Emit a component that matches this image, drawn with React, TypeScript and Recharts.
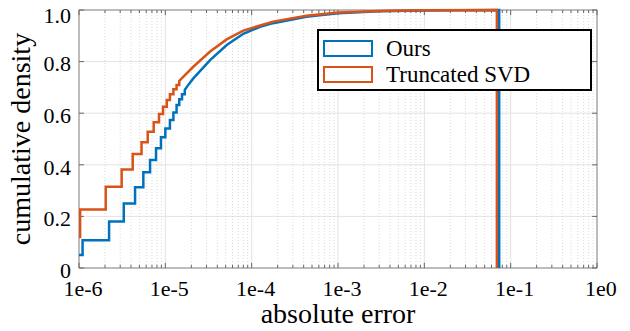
import React from "react";
import {
  CartesianGrid,
  Legend,
  Line,
  LineChart,
  ReferenceArea,
  ReferenceLine,
  XAxis,
  YAxis
} from "recharts";

// staircase part (jump positions and levels), smooth tail, and where the curve drops
const oursStepX = [1e-6, 1.1e-6, 2.23e-6, 3.3e-6, 4.46e-6, 5.56e-6, 6.65e-6, 7.8e-6, 8.9e-6, 1e-5, 1.13e-5, 1.24e-5, 1.35e-5, 1.45e-5, 1.56e-5, 1.68e-5];
const oursStepY = [0.05, 0.108, 0.18, 0.25, 0.313, 0.371, 0.419, 0.464, 0.507, 0.541, 0.574, 0.603, 0.632, 0.654, 0.673, 0.69];
const oursCurveX = [1.8e-5, 2.11e-5, 3.3e-5, 5.14e-5, 8e-5, 1.25e-4, 1.77e-4, 4.3e-4, 1e-3, 3e-3, 1e-2, 0.0736];
const oursCurveY = [0.705, 0.735, 0.806, 0.864, 0.908, 0.935, 0.949, 0.974, 0.987, 0.995, 0.998, 1.0];
const oursEnd = 0.0736;

const svdStepX = [1e-6, 1.03e-6, 2.04e-6, 3.12e-6, 4.19e-6, 5.3e-6, 6.25e-6, 7.33e-6, 8.45e-6, 9.4e-6, 1.04e-5, 1.13e-5, 1.24e-5, 1.35e-5, 1.45e-5];
const svdStepY = [0.12, 0.227, 0.315, 0.382, 0.442, 0.487, 0.528, 0.565, 0.597, 0.625, 0.651, 0.673, 0.693, 0.709, 0.725];
const svdCurveX = [1.6e-5, 2.11e-5, 3.3e-5, 5.14e-5, 8e-5, 1.25e-4, 1.77e-4, 4.3e-4, 1e-3, 3e-3, 1e-2, 0.0692];
const svdCurveY = [0.74, 0.78, 0.839, 0.886, 0.92, 0.94, 0.955, 0.978, 0.99, 0.996, 0.999, 1.0];
const svdEnd = 0.0692;

const xTicks = [1e-6, 1e-5, 1e-4, 1e-3, 1e-2, 1e-1, 1];
const yTicks = [0, 0.2, 0.4, 0.6, 0.8, 1];

const BLUE = "#0072BD";
const ORANGE = "#D95319";
const FONT = "'Liberation Serif', 'Times New Roman', serif";

function buildCdf(stepX: number[], stepY: number[], curveX: number[], curveY: number[], end: number) {
  const pts: { x: number; y: number }[] = [];
  stepX.forEach((x, i) => {
    if (i > 0) pts.push({ x, y: stepY[i - 1] });
    pts.push({ x, y: stepY[i] });
  });
  curveX.forEach((x, i) => pts.push({ x, y: curveY[i] }));
  pts.push({ x: end, y: 0 });
  return pts;
}

const oursData = buildCdf(oursStepX, oursStepY, oursCurveX, oursCurveY, oursEnd);
const svdData = buildCdf(svdStepX, svdStepY, svdCurveX, svdCurveY, svdEnd);

const minorTicks: number[] = [];
for (let d = 0; d < 6; d++) {
  for (let m = 2; m <= 9; m++) minorTicks.push(m * xTicks[d]);
}

function LegendBox() {
  const items = [
    { label: "Ours", color: BLUE },
    { label: "Truncated SVD", color: ORANGE }
  ];
  return (
    <div
      style={{
        border: "2px solid #000",
        background: "#fff",
        boxSizing: "border-box",
        width: 275,
        height: 62,
        padding: "5px 0 0 4px",
        fontFamily: FONT,
        fontSize: 23,
        lineHeight: "25px"
      }}
    >
      {items.map((it) => (
        <div key={it.label} style={{ display: "flex", alignItems: "center", height: 25.5 }}>
          <span
            style={{
              display: "inline-block",
              width: 50,
              height: 17,
              boxSizing: "border-box",
              border: `2px solid ${it.color}`,
              marginRight: 13
            }}
          />
          <span style={{ color: "#000" }}>{it.label}</span>
        </div>
      ))}
    </div>
  );
}

export default function App() {
  return (
    <div style={{ position: "absolute", left: 0, top: 0, background: "#fff" }}>
      <LineChart
        width={630}
        height={331}
        margin={{ top: 10, right: 33, bottom: 0, left: 0 }}
        style={{ fontFamily: FONT }}
      >
        <CartesianGrid stroke="#e3e3e3" strokeWidth={1} verticalValues={xTicks} horizontalValues={yTicks} />
        {minorTicks.map((v) => (
          <ReferenceLine key={`g${v}`} x={v} stroke="#d9d9d9" strokeDasharray="1 2" strokeWidth={1} />
        ))}
        <XAxis
          dataKey="x"
          type="number"
          scale="log"
          domain={[1e-6, 1]}
          allowDataOverflow
          ticks={xTicks}
          tickFormatter={(v: number) => `1e${Math.round(Math.log10(v))}`}
          tick={{ fill: "#000", fontSize: 22, dx: 4, dy: 4 }}
          tickLine={false}
          axisLine={false}
          height={63}
          label={{ value: "absolute error", position: "insideBottom", offset: 8, fill: "#000", fontSize: 28 }}
        />
        <YAxis
          type="number"
          domain={[0, 1]}
          ticks={yTicks}
          tickFormatter={(v: number) => (v === 0 ? "0" : v.toFixed(1))}
          tick={{ fill: "#000", fontSize: 22, dy: 2 }}
          tickLine={false}
          axisLine={false}
          width={79}
          label={{ value: "cumulative density", angle: -90, position: "insideLeft", offset: 20, fill: "#000", fontSize: 28, style: { textAnchor: "middle" } }}
        />
        {xTicks.map((v) => (
          <ReferenceLine key={`tb${v}`} segment={[{ x: v, y: 0 }, { x: v, y: 0.02 }]} stroke="#666" />
        ))}
        {xTicks.map((v) => (
          <ReferenceLine key={`tt${v}`} segment={[{ x: v, y: 1 }, { x: v, y: 0.98 }]} stroke="#666" />
        ))}
        {minorTicks.map((v) => (
          <ReferenceLine key={`mb${v}`} segment={[{ x: v, y: 0 }, { x: v, y: 0.012 }]} stroke="#666" />
        ))}
        {minorTicks.map((v) => (
          <ReferenceLine key={`mt${v}`} segment={[{ x: v, y: 1 }, { x: v, y: 0.988 }]} stroke="#666" />
        ))}
        {yTicks.map((v) => (
          <ReferenceLine key={`yl${v}`} segment={[{ x: 1e-6, y: v }, { x: 1.14e-6, y: v }]} stroke="#666" />
        ))}
        {yTicks.map((v) => (
          <ReferenceLine key={`yr${v}`} segment={[{ x: 0.877, y: v }, { x: 1, y: v }]} stroke="#666" />
        ))}
        <Line
          data={oursData}
          dataKey="y"
          type="linear"
          stroke={BLUE}
          strokeWidth={2.5}
          dot={false}
          isAnimationActive={false}
          name="Ours"
        />
        <Line
          data={svdData}
          dataKey="y"
          type="linear"
          stroke={ORANGE}
          strokeWidth={2.5}
          dot={false}
          isAnimationActive={false}
          name="Truncated SVD"
        />
        <ReferenceArea x1={1e-6} x2={1} y1={0} y2={1} fill="none" stroke="#888" strokeWidth={1} />
        <Legend
          layout="vertical"
          align="center"
          verticalAlign="middle"
          wrapperStyle={{ left: 317, top: 29, width: 275, height: 62 }}
          content={() => <LegendBox />}
        />
      </LineChart>
    </div>
  );
}
